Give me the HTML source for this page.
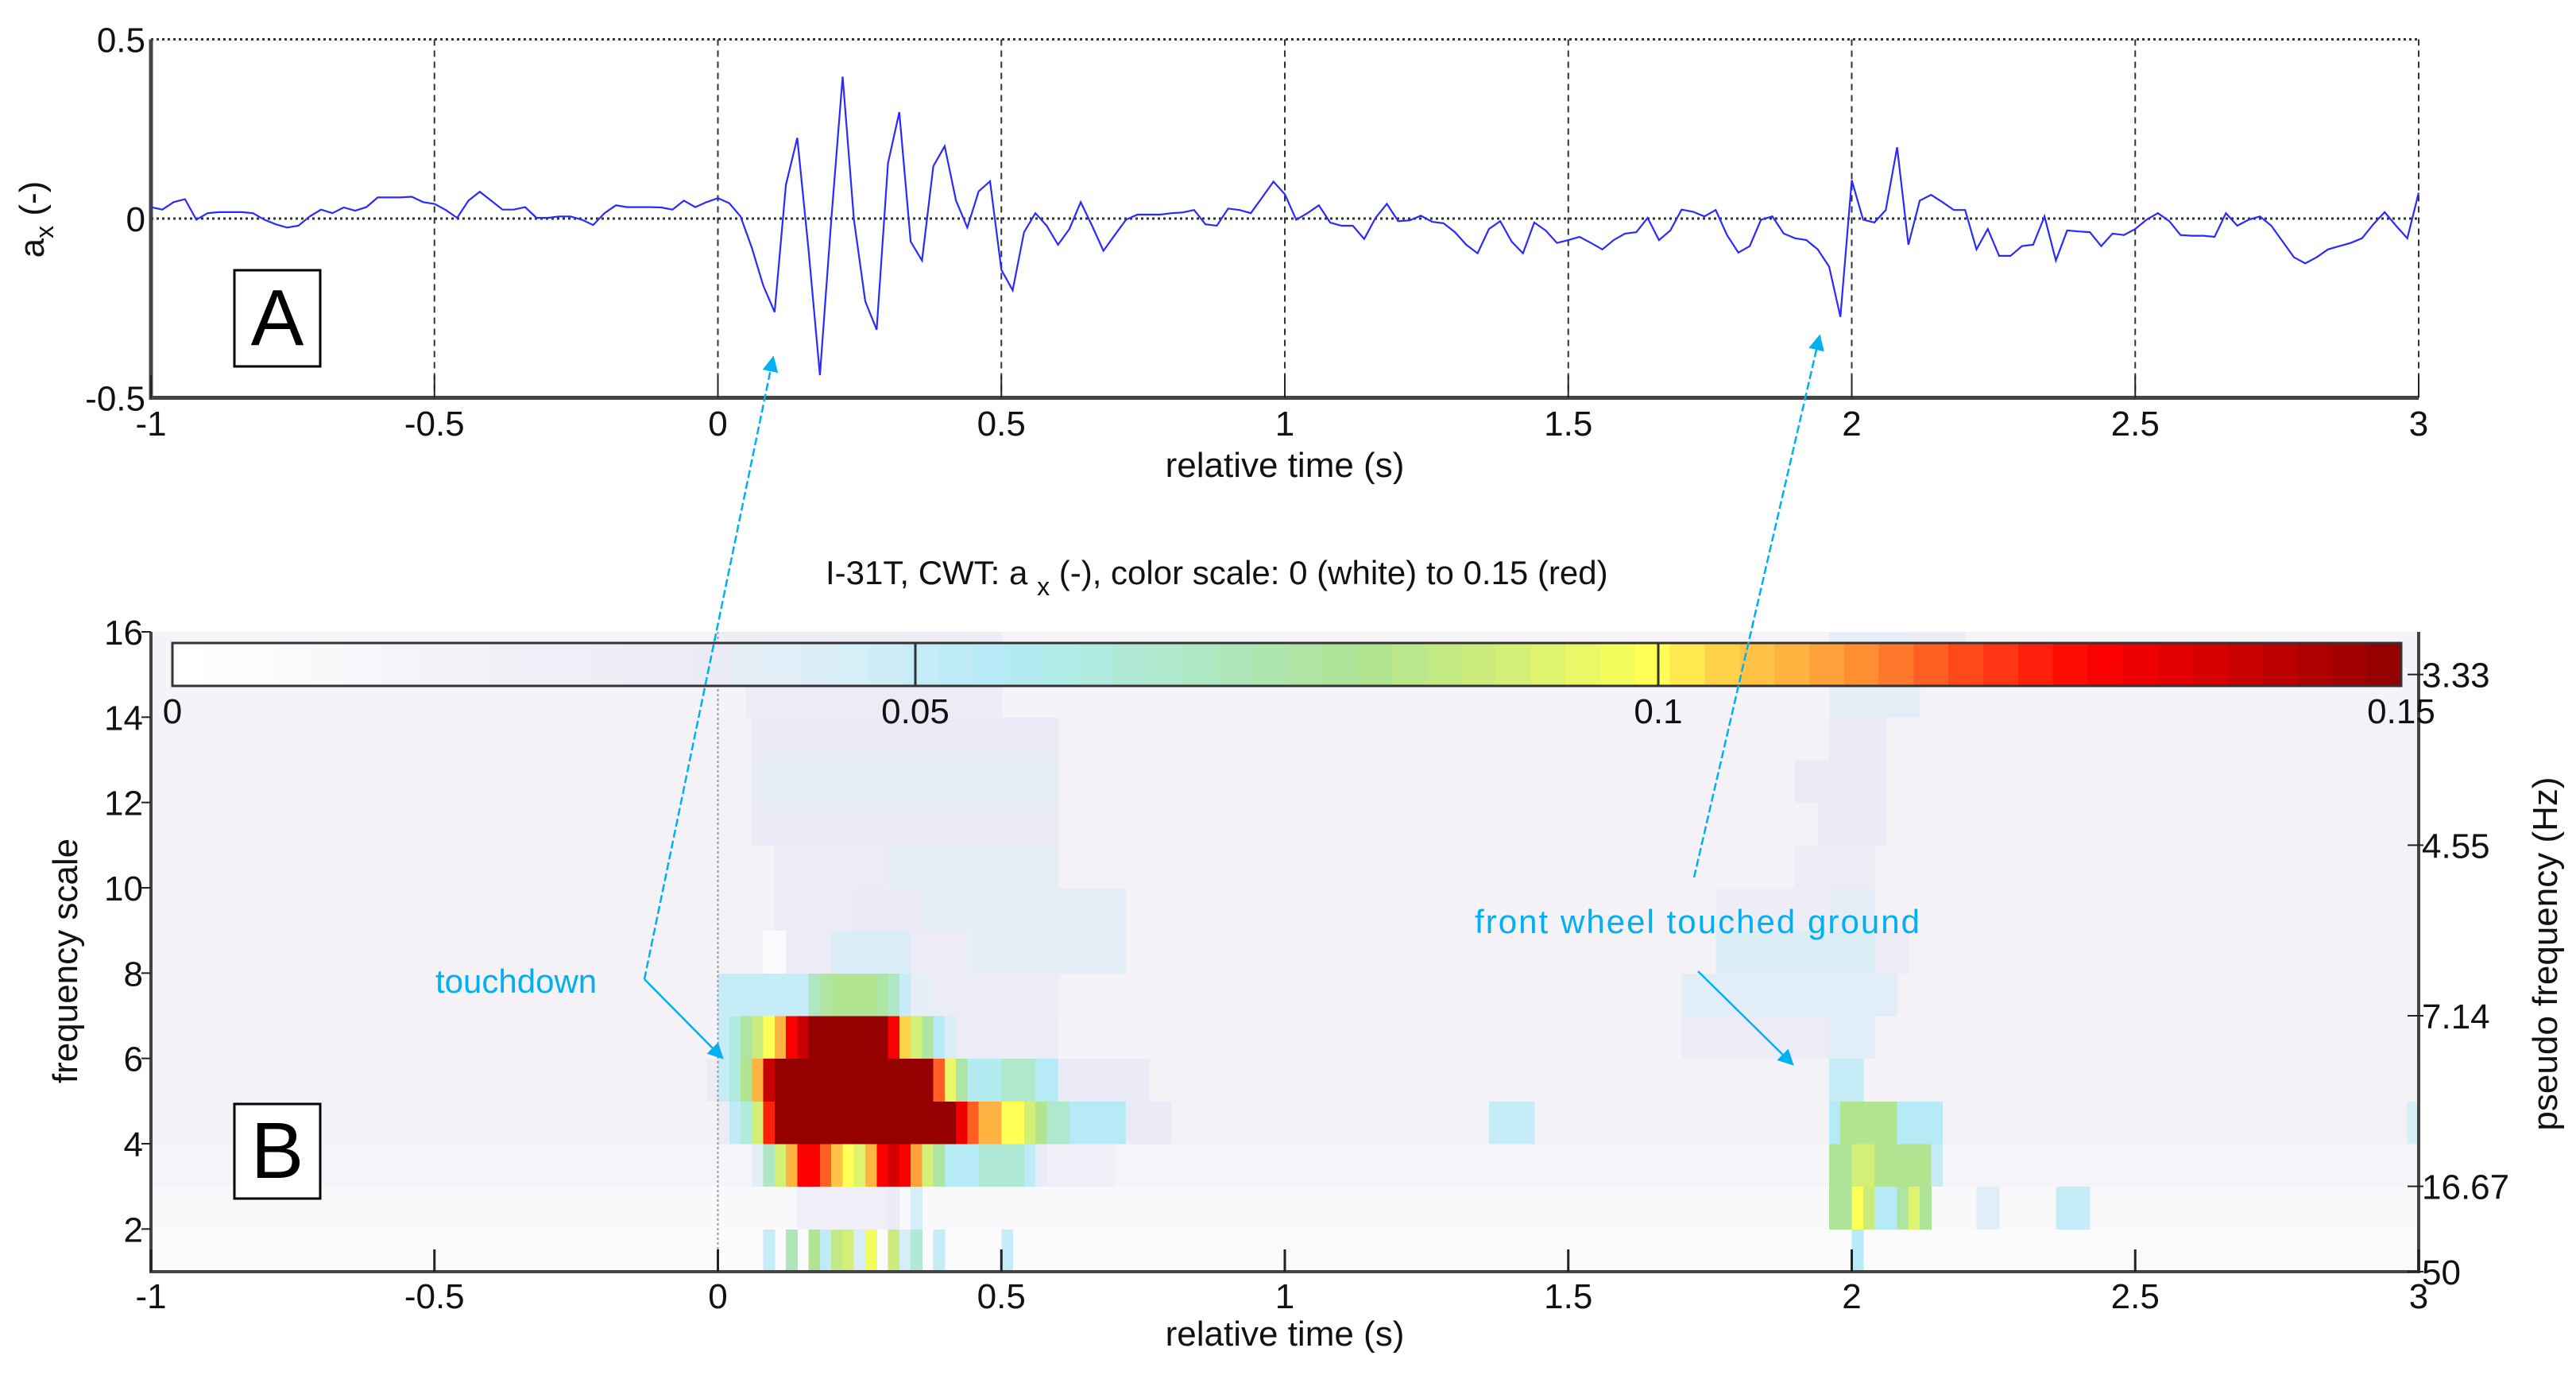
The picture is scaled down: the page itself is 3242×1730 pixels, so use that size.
<!DOCTYPE html>
<html><head><meta charset="utf-8"><style>
html,body{margin:0;padding:0;background:#fff;}
svg{display:block;font-family:"Liberation Sans",sans-serif;}
</style></head><body>
<svg id="fig" width="3242" height="1730" viewBox="0 0 3242 1730" xmlns="http://www.w3.org/2000/svg">
<g id="topPanelG"></g>
<g id="bottomPanelG"></g>
<g id="annotG"></g>
</svg>
<script>
// ---------- data: top panel signal a_x ----------
const sigStart = -1.0;
const sigStep = 0.02;
const sigNeg = [
 .032,.025,.046,.054,-.003,.015,.018,.018,.018,.015,
 -.003,-.016,-.025,-.020,.006,.025,.015,.031,.022,.032,
 .059,.059,.059,.061,.046,.041,.024,.002,.050,.075,
 .050,.025,.025,.032,.002,.002,.006,.006,-.003,-.018,
 .015,.037,.032,.032,.032,.031,.025,.050,.032,.046,
 .057];
const sigA = [
 .043,.006,-.082,-.187,-.261,.094,.225,-.090,-.437,-.003,
 .396,-.003,-.231,-.310,.155,.297,-.064,-.117,.146,.202,
 .050,-.025,.076,.104,-.143,-.200,-.038,.015,-.020,-.073,
 -.029,.046,-.020,-.090,-.046,-.003,.011,.011,.011,.015,
 .017,.024,-.016,-.020,.028,.024,.015,.059,.103,.068];
const sigB = [
 -.003,.015,.037,-.011,-.020,-.020,-.057,.002,.041,-.007,
 -.005,.008,-.009,-.013,-.038,-.073,-.097,-.029,-.007,-.064,
 -.097,-.011,-.033,-.068,-.060,-.051,-.068,-.086,-.060,-.042,
 -.038,.002,-.060,-.033,.025,.019,.006,.024,-.046,-.095,
 -.077,-.003,.006,-.042,-.055,-.060,-.086,-.134,-.274,.107];
const sigC = [
 -.003,-.011,.024,.199,-.073,.050,.066,.046,.024,.024,
 -.086,-.029,-.104,-.104,-.077,-.073,.006,-.117,-.033,-.036,
 -.038,-.077,-.042,-.046,-.029,-.003,.015,-.007,-.046,-.048,
 -.048,-.051,.015,-.020,-.003,.006,-.020,-.064,-.108,-.125,
 -.108,-.086,-.077,-.068,-.055,-.016,.018,-.020,-.055,.072];
const xTicks = [-1,-0.5,0,0.5,1,1.5,2,2.5,3];
const xTickLabels = ["-1","-0.5","0","0.5","1","1.5","2","2.5","3"];
const yTopTicks = [-0.5,0,0.5];
const yTopLabels = ["-0.5","0","0.5"];

// ---------- data: CWT heatmap ----------
const scaleRows = [1,2,3,4,5,6,7,8,9,10,11,12,13,14,15];
const rowBackground = [.008,.01,.015,.02,.018,.016,.018,.02,.018,.02,.02,.02,.018,.016,.016];
const bandSegments = [
 [[0.08,0.1,.05],[0.12,0.14,.072],[0.16,0.18,.082],[0.18,0.2,.052],[0.2,0.22,.085],[0.22,0.24,.09],[0.24,0.26,.045],[0.26,0.28,.097],[0.3,0.32,.088],[0.32,0.34,.045],[0.34,0.36,.065],[0.38,0.4,.05],[0.5,0.52,.05],[2.0,2.02,.055]],
 [[0.14,0.3,.025],[0.3,0.32,.035],[0.34,0.36,.045],[1.96,2.0,.078],[2.0,2.02,.1],[2.02,2.04,.088],[2.04,2.08,.055],[2.08,2.1,.075],[2.1,2.12,.092],[2.12,2.14,.078],[2.22,2.26,.04],[2.36,2.42,.05]],
 [[0.06,0.08,.04],[0.08,0.1,.068],[0.1,0.12,.09],[0.12,0.14,.11],[0.14,0.18,.13],[0.18,0.2,.12],[0.2,0.22,.108],[0.22,0.24,.1],[0.24,0.26,.093],[0.26,0.28,.11],[0.28,0.3,.13],[0.3,0.32,.138],[0.32,0.34,.13],[0.34,0.36,.113],[0.36,0.38,.09],[0.38,0.4,.075],[0.4,0.46,.055],[0.46,0.54,.065],[0.54,0.56,.052],[0.56,0.58,.035],[0.58,0.7,.025],[1.96,2.0,.078],[2.0,2.04,.09],[2.04,2.14,.08],[2.14,2.16,.05]],
 [[0.0,0.02,.03],[0.02,0.04,.052],[0.04,0.06,.062],[0.06,0.08,.09],[0.08,0.1,.125],[0.1,0.42,.15],[0.42,0.44,.133],[0.44,0.46,.12],[0.46,0.5,.11],[0.5,0.54,.099],[0.54,0.56,.09],[0.56,0.58,.08],[0.58,0.62,.066],[0.62,0.72,.055],[0.72,0.8,.035],[1.36,1.44,.05],[1.96,1.98,.055],[1.98,2.08,.08],[2.08,2.16,.055],[2.98,3.0,.045]],
 [[-0.02,0,.03],[0,0.02,.05],[0.02,0.04,.062],[0.04,0.06,.08],[0.06,0.08,.11],[0.08,0.1,.14],[0.1,0.38,.15],[0.38,0.4,.12],[0.4,0.42,.095],[0.42,0.44,.075],[0.44,0.5,.058],[0.5,0.56,.066],[0.56,0.6,.055],[0.6,0.76,.036],[1.96,2.02,.05]],
 [[0,0.02,.05],[0.02,0.04,.062],[0.04,0.06,.075],[0.06,0.08,.088],[0.08,0.1,.1],[0.1,0.12,.11],[0.12,0.14,.13],[0.14,0.16,.14],[0.16,0.3,.15],[0.3,0.32,.13],[0.32,0.34,.105],[0.34,0.36,.09],[0.36,0.38,.075],[0.38,0.4,.055],[0.4,0.42,.042],[0.42,0.6,.03],[1.7,1.96,.032],[1.96,2.04,.04]],
 [[0,0.16,.05],[0.16,0.18,.068],[0.18,0.2,.075],[0.2,0.28,.08],[0.28,0.3,.077],[0.3,0.32,.068],[0.32,0.34,.05],[0.34,0.38,.038],[0.38,0.6,.033],[1.7,2.08,.04]],
 [[0.08,0.12,.008],[0.12,0.2,.032],[0.2,0.34,.042],[0.34,0.44,.03],[0.44,0.72,.038],[1.76,2.04,.042],[2.04,2.1,.03]],
 [[0.1,0.24,.032],[0.24,0.36,.036],[0.36,0.72,.038],[1.76,1.96,.028],[1.96,2.04,.038]],
 [[0.1,0.3,.032],[0.3,0.6,.038],[1.9,2.04,.032]],
 [[0.06,0.6,.036],[1.94,2.06,.035]],
 [[0.06,0.6,.037],[1.9,2.06,.035]],
 [[0.06,0.6,.035],[1.96,2.06,.035]],
 [[0.05,0.5,.032],[1.96,2.12,.038]],
 [[0.0,0.5,.028],[1.96,2.1,.038],[2.1,2.2,.03]]
];
const yScaleTicks = [2,4,6,8,10,12,14,16];
const pseudoFreqScales = [15,11,7,3,1];
const pseudoFreqLabels = ["3.33","4.55","7.14","16.67","50"];
const cbarTicks = [0,0.05,0.1,0.15];
const cbarLabels = ["0","0.05","0.1","0.15"];

// ---------- helpers ----------
const NS = "http://www.w3.org/2000/svg";
function el(parent, tag, attrs, text){
  const e = document.createElementNS(NS, tag);
  for (const k in attrs) e.setAttribute(k, attrs[k]);
  if (text !== undefined) e.textContent = text;
  parent.appendChild(e); return e;
}
const X0 = 190, X1 = 3044;
const xs = t => X0 + (t + 1) / 4 * (X1 - X0);
const yTop = v => 275 - v * 451;
const yS = s => 1600 - (s - 1) * (805 / 15);

const stops = [[0,"#ffffff"],[0.02,"#f3f0f7"],[0.035,"#ebebf6"],[0.04,"#e2eef7"],[0.045,"#d6eef7"],[0.05,"#c6ecf7"],[0.055,"#b5eaf7"],[0.06,"#b2ece6"],[0.07,"#aee6bf"],[0.08,"#aee394"],[0.09,"#d2ee78"],[0.1,"#ffff55"],[0.105,"#ffd048"],[0.11,"#ffb040"],[0.115,"#ff8830"],[0.12,"#ff5520"],[0.13,"#ff0000"],[0.14,"#cc0000"],[0.15,"#950000"]];
function hex(h){return [1,3,5].map(i=>parseInt(h.substr(i,2),16));}
function cmap(v){
  v = Math.max(0, Math.min(0.15, v));
  v = Math.round(v / 0.15 * 63) / 63 * 0.15;
  for (let i=1;i<stops.length;i++){
    if (v <= stops[i][0]){
      const a=stops[i-1], b=stops[i], f=(v-a[0])/(b[0]-a[0]);
      const ca=hex(a[1]), cb=hex(b[1]);
      return "rgb("+ca.map((c,j)=>Math.round(c+(cb[j]-c)*f)).join(",")+")";
    }
  }
  return stops[stops.length-1][1];
}

// ---------- top panel ----------
const topPanel = document.getElementById("topPanelG");
const grid = el(topPanel, "g", {});


xTicks.forEach(t => {
  if (t > -1) el(grid, "line", {x1:xs(t), y1:yTop(0.5), x2:xs(t), y2:yTop(-0.5), stroke:"#333", "stroke-width":2, "stroke-dasharray":"8,6"});
});
[0,0.5].forEach(v => el(grid, "line", {x1:X0, y1:yTop(v), x2:X1, y2:yTop(v), stroke:"#333", "stroke-width":3, "stroke-dasharray":"3,4"}));
const axT = el(topPanel, "path", {d:`M${X0},${yTop(0.5)} V${yTop(-0.5)} H${X1}`, fill:"none", stroke:"#444", "stroke-width":5});


xTicks.forEach((t,i) => {
  el(topPanel, "line", {x1:xs(t), y1:yTop(-0.5), x2:xs(t), y2:yTop(-0.5)-28, stroke:"#222", "stroke-width":2});
  const tx = el(topPanel, "text", {x:xs(t), y:548, "font-size":44, "text-anchor":"middle", fill:"#111"}, xTickLabels[i]);
  
  
});
yTopTicks.forEach((v,i) => {
  const tx = el(topPanel, "text", {x:183, y:yTop(v)+16, "font-size":44, "text-anchor":"end", fill:"#111"}, yTopLabels[i]);
  
  
});
const xt1 = el(topPanel, "text", {x:1617, y:600, "font-size":44, "text-anchor":"middle", fill:"#111"}, "relative time (s)");


const yt1 = el(topPanel, "text", {transform:"translate(55,276) rotate(-90)", "font-size":44, "text-anchor":"middle", fill:"#111"});


el(yt1, "tspan", {}, "a");
el(yt1, "tspan", {"font-size":32, dy:12}, "x");
el(yt1, "tspan", {dy:-12}, " (-)");
const sig = [].concat(sigNeg, sigA, sigB, sigC);
let pathD = "";
sig.forEach((v,i) => { pathD += (i? "L":"M") + xs(sigStart + i*sigStep).toFixed(1) + "," + yTop(v).toFixed(1); });
const sigLine = el(topPanel, "path", {d:pathD, fill:"none", stroke:"#2a2aff", "stroke-width":2.2});


const boxA = el(topPanel, "g", {});


el(boxA, "rect", {x:295, y:340, width:108, height:121, fill:"#fff", stroke:"#000", "stroke-width":3});
el(boxA, "text", {x:349, y:434, "font-size":100, "text-anchor":"middle", fill:"#000"}, "A");

// ---------- bottom panel ----------
const botPanel = document.getElementById("bottomPanelG");
const hm = el(botPanel, "g", {"shape-rendering":"crispEdges"});


scaleRows.forEach((s,ri) => {
  const r = el(hm, "rect", {x:X0, y:yS(s+1), width:X1-X0, height:yS(s)-yS(s+1)+0.5, fill:cmap(rowBackground[ri])});
  
  
  bandSegments[ri].forEach(seg => {
    const c = el(hm, "rect", {x:xs(seg[0]), y:yS(s+1), width:xs(seg[1])-xs(seg[0])+0.5, height:yS(s)-yS(s+1)+0.5, fill:cmap(seg[2])});
    
    
  });
});
el(botPanel, "line", {x1:xs(0), y1:yS(16), x2:xs(0), y2:yS(1), stroke:"#999", "stroke-width":2, "stroke-dasharray":"3,3"});
const axB = el(botPanel, "path", {d:`M${X0},${yS(16)} V${yS(1)} H${X1} V${yS(16)}`, fill:"none", stroke:"#444", "stroke-width":4});


xTicks.forEach((t,i) => {
  el(botPanel, "line", {x1:xs(t), y1:yS(1), x2:xs(t), y2:yS(1)-28, stroke:"#222", "stroke-width":3});
  const tx = el(botPanel, "text", {x:xs(t), y:1646, "font-size":44, "text-anchor":"middle", fill:"#111"}, xTickLabels[i]);
  
  
});
yScaleTicks.forEach(s => {
  el(botPanel, "line", {x1:X0-12, y1:yS(s), x2:X0, y2:yS(s), stroke:"#222", "stroke-width":2});
  const tx = el(botPanel, "text", {x:180, y:yS(s)+16, "font-size":44, "text-anchor":"end", fill:"#111"}, String(s));
  
  
});
pseudoFreqScales.forEach((s,i) => {
  el(botPanel, "line", {x1:X1-14, y1:yS(s), x2:X1+6, y2:yS(s), stroke:"#222", "stroke-width":2});
  const tx = el(botPanel, "text", {x:X1+4, y:yS(s)+16, "font-size":44, fill:"#111"}, pseudoFreqLabels[i]);
  
  
});
const xt2 = el(botPanel, "text", {x:1617, y:1693, "font-size":44, "text-anchor":"middle", fill:"#111"}, "relative time (s)");


const yt2 = el(botPanel, "text", {transform:"translate(97,1209) rotate(-90)", "font-size":44, "text-anchor":"middle", fill:"#111"}, "frequency scale");


const yt3 = el(botPanel, "text", {transform:"translate(3218,1200) rotate(-90)", "font-size":44, "text-anchor":"middle", fill:"#111"}, "pseudo frequency (Hz)");


const ttl = el(botPanel, "text", {x:1039, y:735, "font-size":42, fill:"#111"});


el(ttl, "tspan", {}, "I-31T, CWT: a ");
el(ttl, "tspan", {"font-size":32, dy:14}, "x");
el(ttl, "tspan", {dy:-14}, " (-), color scale: 0 (white) to 0.15 (red)");
// colorbar
const CB0 = 217, CB1 = 3022;
const cb = el(botPanel, "g", {"shape-rendering":"crispEdges"});


for (let k=0;k<64;k++){
  el(cb, "rect", {x:CB0+k*(CB1-CB0)/64, y:809, width:(CB1-CB0)/64+0.6, height:54, fill:cmap(k/63*0.15)});
}
el(cb, "rect", {x:CB0, y:809, width:CB1-CB0, height:54, fill:"none", stroke:"#333", "stroke-width":3});
cbarTicks.forEach((v,i) => {
  const x = CB0 + v/0.15*(CB1-CB0);
  if (v>0 && v<0.15) el(cb, "line", {x1:x, y1:809, x2:x, y2:863, stroke:"#333", "stroke-width":3});
  const tx = el(cb, "text", {x:x, y:910, "font-size":44, "text-anchor":"middle", fill:"#111"}, cbarLabels[i]);
  
  
});
const boxB = el(botPanel, "g", {});


el(boxB, "rect", {x:295, y:1389, width:108, height:119, fill:"#fff", stroke:"#000", "stroke-width":3});
el(boxB, "text", {x:349, y:1482, "font-size":100, "text-anchor":"middle", fill:"#000"}, "B");

// ---------- annotations ----------
const annotG = document.getElementById("annotG");
const defs = el(annotG, "defs", {});
const mk = el(defs, "marker", {id:"ah", markerWidth:8, markerHeight:8, refX:7, refY:4, orient:"auto", markerUnits:"strokeWidth"});
el(mk, "path", {d:"M0,0 L8,4 L0,8 z", fill:"#00b0f0"});
const a1 = el(annotG, "path", {d:"M811,1232 L973,450", fill:"none", stroke:"#00b0f0", "stroke-width":2.5, "stroke-dasharray":"10,4", "marker-end":"url(#ah)"});


const a2 = el(annotG, "path", {d:"M811,1232 L909,1331", fill:"none", stroke:"#00b0f0", "stroke-width":2.5, "marker-end":"url(#ah)"});


const a3 = el(annotG, "path", {d:"M2132,1104 L2290,423", fill:"none", stroke:"#00b0f0", "stroke-width":2.5, "stroke-dasharray":"10,4", "marker-end":"url(#ah)"});


const a4 = el(annotG, "path", {d:"M2137,1222 L2256,1339", fill:"none", stroke:"#00b0f0", "stroke-width":2.5, "marker-end":"url(#ah)"});


const t1 = el(annotG, "text", {x:548, y:1249, "font-size":42, fill:"#00b0f0"}, "touchdown");


const t2 = el(annotG, "text", {x:1856, y:1174, "font-size":42, fill:"#00b0f0", textLength:560}, "front wheel touched ground");


</script>
</body></html>
